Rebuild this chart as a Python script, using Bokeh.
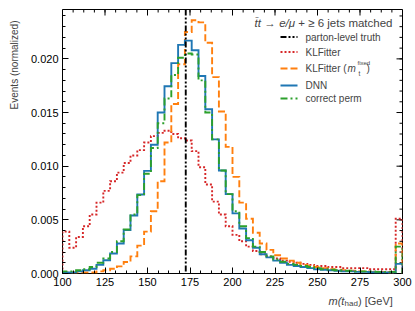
import numpy as np
from bokeh.plotting import figure
from bokeh.layouts import row, column
from bokeh.models import Range1d, Span, Label, FixedTicker, NumeralTickFormatter
from bokeh.embed import file_html
from bokeh.resources import INLINE

# ---------------- data ----------------
bin_edges = [100, 104, 108, 112, 116, 120, 124, 128, 132, 136, 140, 144, 148, 152, 156,
             160, 164, 168, 172, 176, 180, 184, 188, 192, 196, 200, 204, 208, 212, 216,
             220, 224, 228, 232, 236, 240, 244, 248, 252, 256, 260, 264, 268, 272, 276,
             280, 284, 288, 292, 296, 300]

truth_mass = 172.5

klfitter = [0.0039, 0.0024, 0.0034, 0.0044, 0.0055, 0.0066, 0.0077, 0.0086, 0.0094, 0.0103,
            0.0110, 0.0115, 0.0122, 0.0128, 0.0131, 0.0133, 0.0130, 0.0126, 0.0124, 0.0114,
            0.0099, 0.0083, 0.0067, 0.0055, 0.0044, 0.0036, 0.0030, 0.0025, 0.0021, 0.0018,
            0.0016, 0.0014, 0.0012, 0.0011, 0.0010, 0.0009, 0.0008, 0.0007, 0.0007, 0.0006,
            0.0006, 0.0005, 0.0005, 0.0005, 0.0005, 0.0004, 0.0004, 0.0004, 0.0004, 0.0051]

klfitter_fixed = [0.0001, 0.0001, 0.0001, 0.0001, 0.0001, 0.0002, 0.0003, 0.00044, 0.00066, 0.00107,
                  0.0016, 0.0026, 0.0039, 0.0058, 0.0086, 0.0122, 0.0158, 0.0195, 0.0225, 0.0236,
                  0.0234, 0.0215, 0.0183, 0.0151, 0.0118, 0.0090, 0.0066, 0.0051, 0.0038, 0.0028,
                  0.0022, 0.0017, 0.0014, 0.0012, 0.0010, 0.0008, 0.0007, 0.0006, 0.0005, 0.0004,
                  0.00035, 0.0003, 0.00025, 0.0002, 0.0002, 0.00015, 0.00015, 0.00015, 0.0001, 0.0028]

dnn = [0.0001, 0.0001, 0.0002, 0.0003, 0.00044, 0.0008, 0.00123, 0.00186, 0.0028, 0.00406,
       0.0054, 0.00736, 0.00956, 0.0120, 0.0150, 0.01745, 0.0196, 0.0213, 0.0217, 0.0208,
       0.0184, 0.0153, 0.0125, 0.0096, 0.0074, 0.0056, 0.0042, 0.0031, 0.0024, 0.0018,
       0.0015, 0.0012, 0.0010, 0.0008, 0.0007, 0.0006, 0.0005, 0.0004, 0.00035, 0.0003,
       0.00025, 0.0002, 0.0002, 0.00015, 0.00015, 0.00012, 0.0001, 0.0001, 0.0001, 0.0009]

correct_perm = [0.0002, 0.0002, 0.0003, 0.0004, 0.0006, 0.0010, 0.0014, 0.0020, 0.0030, 0.0041,
                0.0055, 0.0073, 0.0093, 0.0117, 0.0140, 0.0163, 0.0185, 0.0201, 0.0205, 0.0204,
                0.0180, 0.0150, 0.0125, 0.0096, 0.0074, 0.0058, 0.0044, 0.0033, 0.0025, 0.0020,
                0.0016, 0.0013, 0.0011, 0.0009, 0.0008, 0.0007, 0.0006, 0.0005, 0.0004, 0.00035,
                0.0003, 0.00025, 0.00025, 0.0002, 0.0002, 0.0002, 0.00015, 0.00015, 0.00015, 0.0025]

x_ticks = [100, 125, 150, 175, 200, 225, 250, 275, 300]
y_ticks = [0.000, 0.005, 0.010, 0.015, 0.020]

labels = ["parton-level truth", "KLFitter", "KLFitter (", "DNN", "correct perm"]

# ---------------- styling ----------------
FONT = "Liberation Sans"
C_RED = "#d62728"
C_ORANGE = "#ff7f0e"
C_BLUE = "#1f77b4"
C_GREEN = "#2ca02c"
LW = 1.9
DASH_TRUTH = "6 2 2 2 2 2"
DASH_RED = "2 2"
DASH_ORANGE = "7 3"
DASH_GREEN = "7 3 2 3"

FW, FH = 340, 264
YTOP = 0.0246

p = figure(width=393, height=293,
           x_range=Range1d(100, 300), y_range=Range1d(0, YTOP),
           output_backend="svg", toolbar_location=None,
           min_border_left=40, min_border_right=13, min_border_top=9, min_border_bottom=20)
p.extra_x_ranges = {"px": Range1d(0, FW)}
p.extra_y_ranges = {"px": Range1d(0, FH)}

p.xgrid.visible = False
p.ygrid.visible = False
p.outline_line_color = "black"
p.outline_line_width = 1
p.background_fill_color = "white"
p.border_fill_color = "white"

x_minor = list(np.arange(100, 300.01, 6.25))
y_minor = list(np.arange(0, YTOP, 0.001))


def style_axis(ax, ticks, minor):
    ax.ticker = FixedTicker(ticks=ticks, minor_ticks=minor)
    ax.axis_line_color = None
    ax.major_tick_in = 6
    ax.major_tick_out = 0
    ax.minor_tick_in = 3
    ax.minor_tick_out = 0
    ax.major_tick_line_color = "black"
    ax.minor_tick_line_color = "black"
    ax.major_tick_line_width = 1
    ax.minor_tick_line_width = 1
    ax.major_label_text_font = FONT
    ax.major_label_text_font_size = "11px"
    ax.major_label_text_color = "black"
    ax.major_label_standoff = 4


style_axis(p.xaxis[0], x_ticks, x_minor)
style_axis(p.yaxis[0], y_ticks, y_minor)
p.yaxis[0].formatter = NumeralTickFormatter(format="0.000")

# mirrored ticks on the top and right edges
p.segment(x0=x_ticks, x1=x_ticks, y0=[FH] * len(x_ticks), y1=[FH - 6] * len(x_ticks),
          y_range_name="px", line_color="black", line_width=1)
p.segment(x0=x_minor, x1=x_minor, y0=[FH] * len(x_minor), y1=[FH - 3] * len(x_minor),
          y_range_name="px", line_color="black", line_width=1)
p.segment(x0=[FW] * len(y_ticks), x1=[FW - 6] * len(y_ticks), y0=y_ticks, y1=y_ticks,
          x_range_name="px", line_color="black", line_width=1)
p.segment(x0=[FW] * len(y_minor), x1=[FW - 3] * len(y_minor), y0=y_minor, y1=y_minor,
          x_range_name="px", line_color="black", line_width=1)


def step_path(edges, vals):
    e = np.asarray(edges, dtype=float)
    v = np.asarray(vals, dtype=float)
    xs = np.repeat(e, 2)
    ys = np.concatenate([[0.0], np.repeat(v, 2), [0.0]])
    return xs, ys


# truth line
p.add_layout(Span(location=truth_mass, dimension="height", line_color="black",
                  line_width=LW, line_dash=DASH_TRUTH))

series = [(klfitter, C_RED, DASH_RED),
          (klfitter_fixed, C_ORANGE, DASH_ORANGE),
          (dnn, C_BLUE, "solid"),
          (correct_perm, C_GREEN, DASH_GREEN)]
for vals, col, dash in series:
    xs, ys = step_path(bin_edges, vals)
    p.line(xs, ys, line_color=col, line_width=LW, line_dash=dash, line_join="miter")


def txt(fig, x, y, s, size, style="normal", align="left", baseline="middle"):
    fig.add_layout(Label(x=x, y=y, x_units="screen", y_units="screen", text=s,
                         text_font=FONT, text_font_size=size, text_font_style=style,
                         text_align=align, text_baseline=baseline))


# ---------------- legend (manual, pixel units inside the frame) ----------------
leg_rows = [236.5, 221.5, 205, 188, 175]
leg_styles = [("black", DASH_TRUTH), (C_RED, DASH_RED), (C_ORANGE, DASH_ORANGE),
              (C_BLUE, "solid"), (C_GREEN, DASH_GREEN)]
for r, (col, dash), lab in zip(leg_rows, leg_styles, labels):
    p.line([218, 235], [r, r], x_range_name="px", y_range_name="px",
           line_color=col, line_width=LW, line_dash=dash)
    txt(p, 243, r, lab, "10px")

# m_t^fixed and closing bracket
txt(p, 285, 205, "m", "10px", style="italic")
txt(p, 295, 210.5, "fixed", "6px")
txt(p, 296, 200.5, "t", "6.5px")
txt(p, 304, 205, ")", "10px")

# legend title: t̄t → e/μ + ≥ 6 jets matched (pieces without edge spaces)
TY = 251
TS = "11.5px"
txt(p, 330, TY, "\u2265 6 jets matched", TS, align="right")
txt(p, 242.5, TY, "+", TS, align="right")
txt(p, 232.6, TY, "e/\u03bc", TS, style="italic", align="right")
txt(p, 213.2, TY, "\u2192", TS, align="right")
txt(p, 198.5, TY, "t\u0304t", TS, style="italic", align="right")

# ---------------- y axis label (own strip on the left; its frame aligns with p's) ----------------
ylab = figure(width=22, height=293, output_backend="svg", toolbar_location=None,
              x_axis_type=None, y_axis_type=None, min_border=0,
              x_range=Range1d(0, 22), y_range=Range1d(0, 293))
ylab.outline_line_color = None
ylab.xgrid.visible = False
ylab.ygrid.visible = False
ylab.add_layout(Label(x=13.5, y=253, x_units="screen", y_units="screen",
                      text="Events (normalized)", angle=np.pi / 2, angle_units="rad",
                      text_font=FONT, text_font_size="10px", text_align="right",
                      text_baseline="middle"))

# ---------------- x axis label (own full-width strip below) ----------------
xlab = figure(width=415, height=18, output_backend="svg", toolbar_location=None,
              x_axis_type=None, y_axis_type=None, min_border=0,
              x_range=Range1d(0, 415), y_range=Range1d(0, 18))
xlab.outline_line_color = None
xlab.xgrid.visible = False
xlab.ygrid.visible = False
XL_Y = 11
txt(xlab, 328, XL_Y, "m(t", "11px", style="italic", baseline="alphabetic")
txt(xlab, 344, XL_Y - 3, "had", "8px", baseline="alphabetic")
txt(xlab, 357.5, XL_Y, ") [GeV]", "11px", baseline="alphabetic")

layout = column(row(ylab, p, spacing=0), xlab, spacing=0)
open("out.html", "w").write(file_html(layout, INLINE))
